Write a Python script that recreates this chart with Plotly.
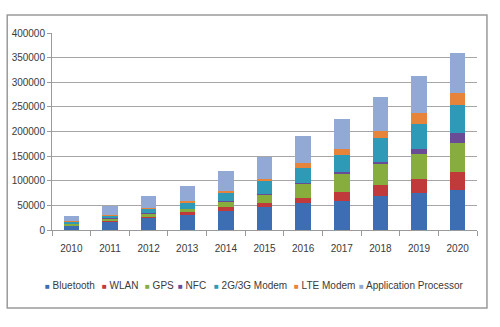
import plotly.graph_objects as go

years = ["2010", "2011", "2012", "2013", "2014", "2015", "2016", "2017", "2018", "2019", "2020"]
bluetooth = [9000, 17000, 25000, 32000, 39000, 47000, 54000, 59000, 69000, 75000, 81000]
wlan = [1000, 2000, 2000, 4000, 8000, 8000, 11000, 18000, 22000, 29000, 37000]
gps = [3500, 5000, 7000, 7000, 10000, 17000, 29000, 37000, 43000, 51000, 58000]
nfc = [100, 200, 300, 500, 1000, 1500, 2000, 3000, 5000, 10000, 20000]
modem_2g3g = [4000, 5000, 9000, 13000, 19000, 26000, 30000, 35000, 47000, 51000, 58000]
lte_modem = [200, 300, 500, 1500, 2000, 5000, 10000, 13000, 15000, 22000, 24000]
app_proc = [10000, 19000, 26000, 31000, 40000, 44000, 55000, 61000, 70000, 74000, 82000]

series_names = ["Bluetooth", "WLAN", "GPS", "NFC", "2G/3G Modem", "LTE Modem", "Application Processor"]
series_values = [bluetooth, wlan, gps, nfc, modem_2g3g, lte_modem, app_proc]
colors = ["#3d6db2", "#c0393b", "#86ad3e", "#6a4c96", "#2f9ab7", "#e8843a", "#92a9d6"]

FONT = "Liberation Sans, Arial, sans-serif"
TXT = "#3a3a3a"

fig = go.Figure()
for name, vals, col in zip(series_names, series_values, colors):
    fig.add_trace(go.Bar(x=years, y=vals, name=name, marker=dict(color=col, line=dict(width=0)),
                         showlegend=False))

# plot area geometry in pixels
L, R, T, B = 50, 23, 33, 97
W, H = 500 - L - R, 327 - T - B

def px_x(p):
    return (p - L) / W

def px_y(p):
    return (327 - B - p) / H

# legend built from annotations
legend_x = [41, 98, 141, 175, 211, 291, 356]
annotations = []
for name, col, lx in zip(series_names, colors, legend_x):
    annotations.append(dict(
        xref="paper", yref="paper", x=px_x(lx), y=px_y(285), xanchor="left", yanchor="middle",
        text=f"<span style='color:{col};font-size:8px'>■</span> {name}", showarrow=False,
        font=dict(family=FONT, size=10, color=TXT)))

fig.update_layout(
    barmode="stack",
    bargap=0.6,
    width=500, height=327,
    margin=dict(l=L, r=R, t=T, b=B),
    paper_bgcolor="white", plot_bgcolor="white",
    font=dict(family=FONT, size=10, color=TXT),
    xaxis=dict(showline=True, linecolor="#9a9a9a", linewidth=1, ticks="outside", tickson="boundaries",
               ticklen=5, tickcolor="#9a9a9a", tickfont=dict(size=10, color=TXT), showgrid=False,
               ticklabelstandoff=9),
    yaxis=dict(range=[0, 400000], dtick=50000, showline=True, linecolor="#9a9a9a", linewidth=1,
               ticks="outside", ticklen=4, tickcolor="#9a9a9a", gridcolor="#a6a6a6", gridwidth=1,
               tickformat="d", tickfont=dict(size=10, color=TXT), zeroline=False),
    annotations=annotations,
    shapes=[dict(type="rect", xref="paper", yref="paper", x0=px_x(5), x1=px_x(487), y0=px_y(308), y1=px_y(15),
                 line=dict(color="#9a9a9a", width=1.5), fillcolor="rgba(0,0,0,0)", layer="below")],
)

fig.write_html("out.html")
